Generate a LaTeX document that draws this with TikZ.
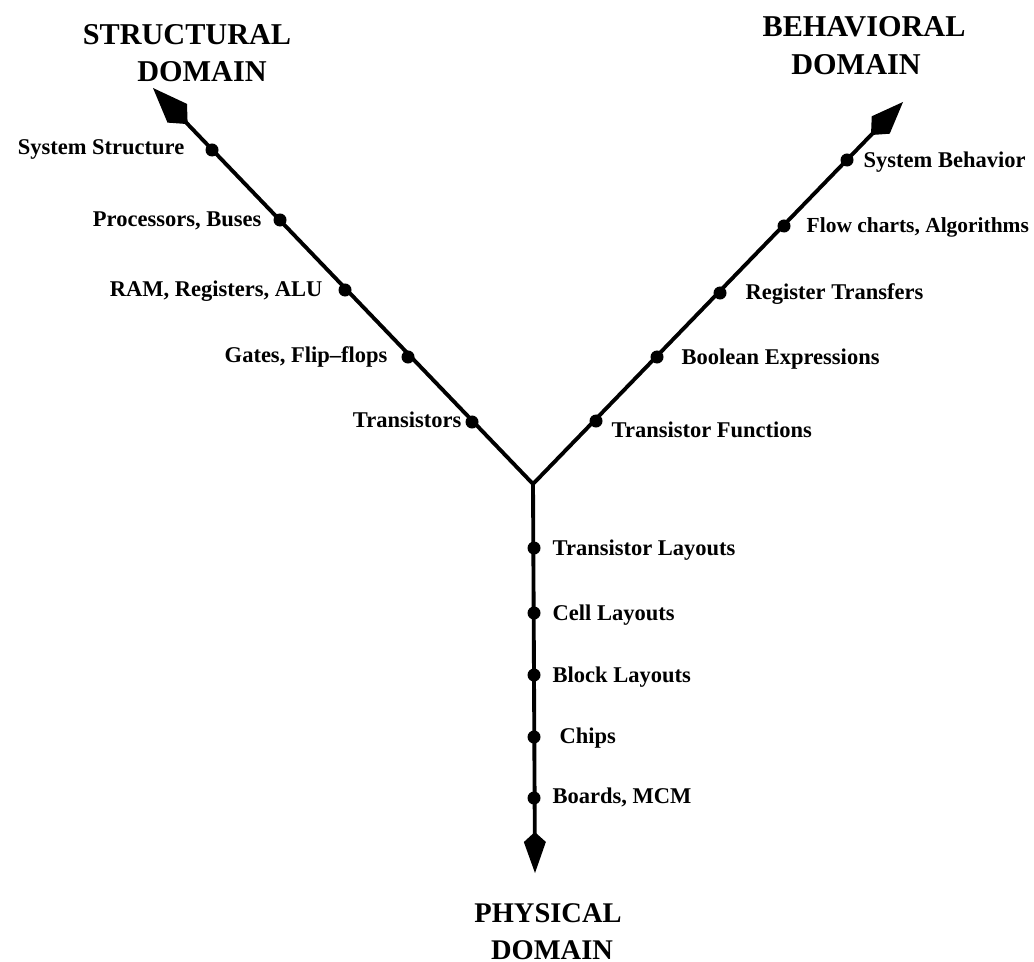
\documentclass[tikz,border=0pt]{standalone}
\usepackage{fontspec}
\setmainfont{Liberation Serif}
\usetikzlibrary{calc}
\newcommand\arrowkite[5]{% #1 tip, #2 toward, #3 length, #4 widest point, #5 half width
  \coordinate (kitemid) at ($(#1)!#4!(#2)$);
  \fill ($(#1)!#3!(#2)$) -- ($(kitemid)!#5!90:(#1)$) -- (#1) -- ($(kitemid)!#5!-90:(#1)$) -- cycle;}
\begin{document}
\begin{tikzpicture}[x=0.01cm,y=-0.01cm,
  axis/.style={line width=1.1pt},
  dot/.style={circle,fill,inner sep=0pt,minimum size=0.13cm},
  lbl/.style={font=\fontsize{6.4}{8}\selectfont\bfseries, inner sep=0pt},
  lbls/.style={font=\fontsize{6.1}{8}\selectfont\bfseries, inner sep=0pt},
  ttl/.style={font=\fontsize{8.6}{10}\selectfont\bfseries, inner sep=0pt},
  ttlp/.style={font=\fontsize{8.1}{10}\selectfont\bfseries, inner sep=0pt}]
\useasboundingbox (0,0) rectangle (1034,961);
\coordinate (C) at (533,484);
\coordinate (TS) at (153,88);
\coordinate (TB) at (903,102);
\coordinate (TP) at (535,873);
% axes
\draw[axis] (C) -- ($(TS)!0.45cm!(C)$);
\draw[axis] (C) -- ($(TB)!0.42cm!(C)$);
\draw[axis] (C) -- ($(TP)!0.38cm!(C)$);
\arrowkite{TS}{C}{0.50cm}{0.35cm}{0.135cm}
\arrowkite{TB}{C}{0.46cm}{0.32cm}{0.125cm}
\arrowkite{TP}{C}{0.41cm}{0.31cm}{0.11cm}
% structural domain
\node[dot] (s1) at (212,150) {};
\node[dot] (s2) at (280,220) {};
\node[dot] (s3) at (345,290) {};
\node[dot] (s4) at (408,357) {};
\node[dot] (s5) at (472,422) {};
\node[lbl,anchor=base east] (ls1) at (185,155) {System Structure};
\node[lbl,anchor=base east] (ls2) at (262,227) {Processors, Buses};
\node[lbl,anchor=base east] (ls3) at (323,297) {RAM, Registers, ALU};
\node[lbl,anchor=base east] (ls4) at (388,363) {Gates, Flip--flops};
\node[lbl,anchor=base east] (ls5) at (462,427) {Transistors};
% behavioral domain
\node[dot] (b1) at (847,160) {};
\node[dot] (b2) at (784,226) {};
\node[dot] (b3) at (720,293) {};
\node[dot] (b4) at (657,357) {};
\node[dot] (b5) at (596,421) {};
\node[lbl,anchor=base west] (lb1) at (863,168) {System Behavior};
\node[lbls,anchor=base west] (lb2) at (806,233) {Flow charts, Algorithms};
\node[lbl,anchor=base west] (lb3) at (745,300) {Register Transfers};
\node[lbl,anchor=base west] (lb4) at (681,364) {Boolean Expressions};
\node[lbl,anchor=base west] (lb5) at (611,437) {Transistor Functions};
% physical domain
\node[dot] (p1) at (534,548) {};
\node[dot] (p2) at (534,613) {};
\node[dot] (p3) at (534,675) {};
\node[dot] (p4) at (534,737) {};
\node[dot] (p5) at (534,798) {};
\node[lbl,anchor=base west] (lp1) at (552,555) {Transistor Layouts};
\node[lbl,anchor=base west] (lp2) at (552,620) {Cell Layouts};
\node[lbl,anchor=base west] (lp3) at (552,682) {Block Layouts};
\node[lbl,anchor=base west] (lp4) at (559,743) {Chips};
\node[lbl,anchor=base west] (lp5) at (552,803) {Boards, MCM};
% titles
\node[ttl,anchor=base] (ts1) at (187,45) {STRUCTURAL};
\node[ttl,anchor=base] (ts2) at (202,82) {DOMAIN};
\node[ttl,anchor=base] (tb1) at (864,37) {BEHAVIORAL};
\node[ttl,anchor=base] (tb2) at (856,75) {DOMAIN};
\node[ttlp,anchor=base] (tp1) at (548,922) {PHYSICAL};
\node[ttlp,anchor=base] (tp2) at (552,959) {DOMAIN};
\end{tikzpicture}
\end{document}
